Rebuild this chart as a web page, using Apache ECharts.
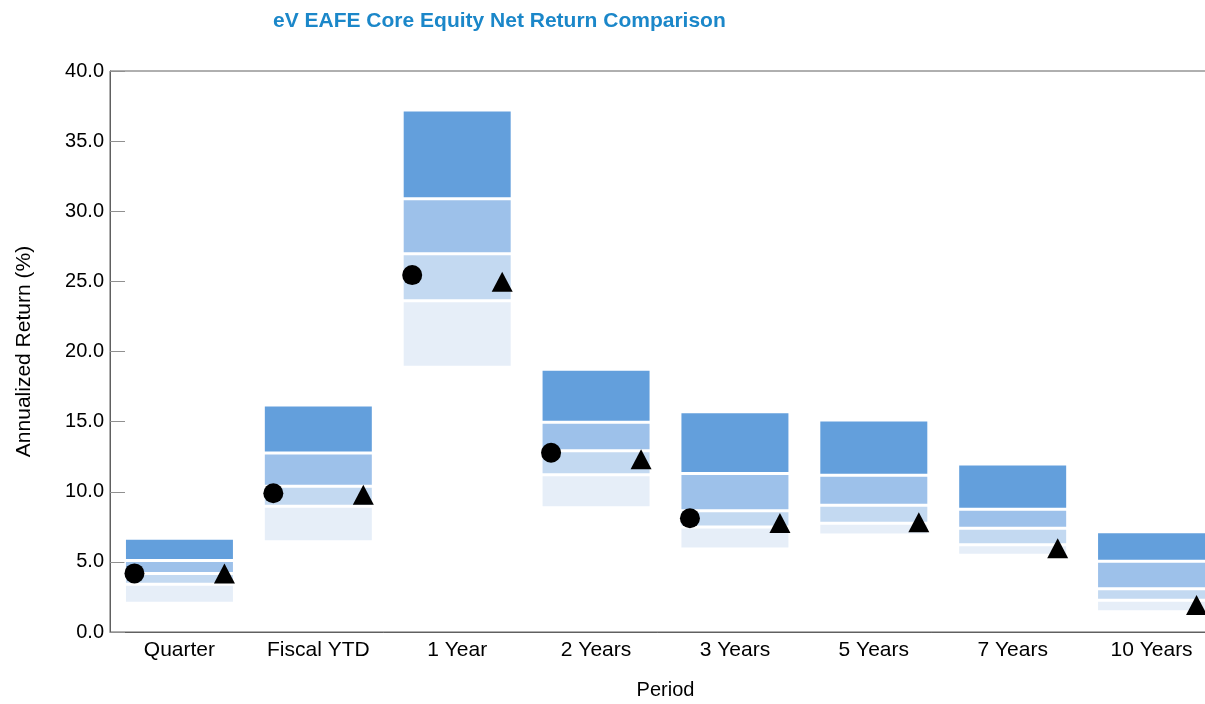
<!DOCTYPE html>
<html>
<head>
<meta charset="utf-8">
<title>eV EAFE Core Equity Net Return Comparison</title>
<script src="https://cdn.jsdelivr.net/npm/echarts@6/dist/echarts.min.js"></script>
<style>
  html, body { margin: 0; padding: 0; background: #ffffff; }
  #chart { width: 1205px; height: 704px; }
</style>
</head>
<body>
<div id="chart"></div>
<script>
// Periods shown along the x axis
const periods = ['Quarter', 'Fiscal YTD', '1 Year', '2 Years', '3 Years', '5 Years', '7 Years', '10 Years'];

// Universe percentile breakpoints (annualized return, %)
const p5   = [6.68, 16.19, 37.22, 18.73, 15.71, 15.12, 11.98, 7.15];
const p25  = [5.10, 12.76, 30.90, 14.96, 11.30, 11.17, 8.76, 5.04];
const p50  = [4.18, 10.39, 26.97, 12.92, 8.65, 9.03, 7.39, 3.09];
const p75  = [3.40, 8.96, 23.62, 11.22, 7.49, 7.75, 6.22, 2.27];
const p95  = [2.05, 6.44, 18.87, 8.86, 5.92, 6.92, 5.47, 1.45];

// Portfolio (circle) and benchmark (triangle) returns
const portfolio = [4.18, 9.89, 25.45, 12.78, 8.11, null, null, null];
const benchmark = [4.18, 9.79, 24.98, 12.32, 7.77, 7.83, 5.97, 1.93];

// Y axis ticks
const yMin = 0, yMax = 40, yStep = 5;

const FONT = '"Liberation Sans", Arial, sans-serif';
const diff = (a, b) => a.map((v, i) => +(v - b[i]).toFixed(4));

const bandColors = ['#e6eef8', '#c3d9f1', '#9dc1ea', '#639fdc'];
const bands = [
  diff(p75, p95),
  diff(p50, p75),
  diff(p25, p50),
  diff(p5, p25)
];

const BAR_W = 110;
const barSeries = [{
  type: 'bar',
  stack: 'range',
  data: p95,
  barWidth: BAR_W,
  itemStyle: { color: 'transparent', borderWidth: 0 },
  emphasis: { disabled: true },
  silent: true
}].concat(bands.map((d, i) => ({
  type: 'bar',
  stack: 'range',
  data: d,
  barWidth: BAR_W,
  itemStyle: { color: bandColors[i], borderColor: '#ffffff', borderWidth: 1.5 },
  emphasis: { disabled: true }
})));

const chart = echarts.init(document.getElementById('chart'), null, { renderer: 'canvas' });
chart.setOption({
  animation: false,
  backgroundColor: '#ffffff',
  title: {
    text: 'eV EAFE Core Equity Net Return Comparison',
    left: 268,
    top: 6,
    textStyle: { fontFamily: FONT, fontSize: 21, fontWeight: 'bold', color: '#1b87c9' }
  },
  grid: {
    left: 110, top: 71, width: 1111, height: 561,
    outerBoundsMode: 'none',
    containLabel: false,
    show: true, borderColor: '#606060', borderWidth: 1, backgroundColor: 'transparent'
  },
  xAxis: {
    type: 'category',
    data: periods,
    name: 'Period',
    nameLocation: 'middle',
    nameGap: 48,
    nameTextStyle: { fontFamily: FONT, fontSize: 20, color: '#000' },
    axisLine: { lineStyle: { color: '#606060', width: 1 } },
    axisTick: { show: false },
    axisLabel: { fontFamily: FONT, fontSize: 21, color: '#000', margin: 8 },
    splitLine: { show: false }
  },
  yAxis: {
    type: 'value',
    min: yMin, max: yMax, interval: yStep,
    name: 'Annualized Return (%)',
    nameLocation: 'middle',
    nameGap: 75,
    nameTextStyle: { fontFamily: FONT, fontSize: 21, color: '#000' },
    axisLine: { show: true, lineStyle: { color: '#606060', width: 1 } },
    axisTick: { show: true, inside: true, length: 15, lineStyle: { color: '#909090' } },
    axisLabel: { fontFamily: FONT, fontSize: 20, color: '#000', margin: 6, formatter: v => v.toFixed(1) },
    splitLine: { show: false }
  },
  series: barSeries.concat([
    {
      type: 'scatter',
      name: 'Portfolio',
      data: portfolio,
      symbol: 'circle',
      symbolSize: 20,
      symbolOffset: [-45, 0],
      itemStyle: { color: '#000000', opacity: 1 },
      z: 5
    },
    {
      type: 'scatter',
      name: 'Benchmark',
      data: benchmark,
      symbol: 'triangle',
      symbolSize: [21, 20],
      symbolOffset: [45, 0],
      itemStyle: { color: '#000000', opacity: 1 },
      z: 5
    }
  ])
});
</script>
</body>
</html>
